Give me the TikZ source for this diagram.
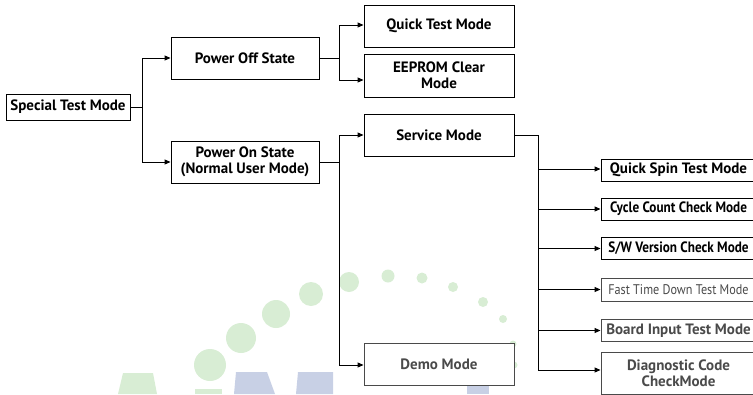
\documentclass[tikz,border=0pt]{standalone}
\usepackage{fontspec}
\setmainfont{PT Sans}
\newfontfamily\narrowfont[FakeStretch=0.87]{PT Sans}
\newfontfamily\condfont[FakeStretch=0.88]{PT Sans}
\usetikzlibrary{arrows.meta}
\definecolor{wmgreen}{HTML}{D8EDD4}
\definecolor{wmblue}{HTML}{C8D0E5}
\definecolor{dgray}{HTML}{4A4A4A}
\tikzset{
  box/.style={draw=black, line width=0.9pt, fill=white, align=center, inner sep=1pt,
    font=\fontsize{15}{16}\selectfont\bfseries},
  condbox/.style={box, font=\fontsize{15}{16}\condfont\bfseries},
  graybox/.style={box, draw=dgray, text=dgray},
  link/.style={draw=black, line width=0.9pt},
  arr/.style={link, -{Triangle[length=6pt,width=5pt]}},
}
\begin{document}
\begin{tikzpicture}[x=1pt,y=-1pt]
\useasboundingbox (0,0) rectangle (753,394);
\clip (0,0) rectangle (753,394);
% watermark
\begin{scope}[fill=wmgreen]
  \fill (349,282) circle (10);
  \fill (311,294) circle (12);
  \fill (276,314) circle (14);
  \fill (241,338) circle (15);
  \fill (210,365) circle (16);
  \fill (388,276) circle (6.5);
  \fill (422,278) circle (5.5);
  \fill (453,287) circle (5);
  \fill (483,302) circle (5);
  \fill (503,319) circle (4);
  \fill (513,344) circle (3.5);
  \fill (514,365) circle (3.5);
  \fill (123,373) -- (153,373) -- (157,394) -- (118,394) -- cycle;
  \fill (195,389) rectangle (222,394);
\end{scope}
\begin{scope}[fill=wmblue]
  \fill (236,372) -- (267,372) -- (275,394) -- (234,394) -- cycle;
  \fill (298,372) -- (333,372) -- (333,394) -- (296,394) -- cycle;
  \fill (467,371) rectangle (489,394);
\end{scope}
% nodes
\node[box, minimum width=124pt, minimum height=26pt] (special) at (68,107) {Special Test Mode};
\node[box, minimum width=148pt, minimum height=42pt] (poweroff) at (245,58) {Power Off State};
\node[box, minimum width=148pt, minimum height=42pt] (poweron) at (245,162) {Power On State\\(Normal User Mode)};
\node[box, minimum width=150pt, minimum height=42pt] (quick) at (439,26) {Quick Test Mode};
\node[box, minimum width=150pt, minimum height=43pt] (eeprom) at (439,75.5) {EEPROM Clear\\Mode};
\node[box, minimum width=150pt, minimum height=42pt] (service) at (439,135) {Service Mode};
\node[graybox, minimum width=150pt, minimum height=42pt] (demo) at (439,364) {Demo Mode};
\node[box, minimum width=155pt, minimum height=22pt] (qspin) at (678.5,170) {Quick Spin Test Mode};
\node[condbox, minimum width=155pt, minimum height=22pt] (cycle) at (678.5,209) {Cycle Count Check Mode};
\node[condbox, minimum width=155pt, minimum height=22pt] (sw) at (678.5,248.5) {S/W Version Check Mode};
\node[graybox, minimum width=155pt, minimum height=23pt, font=\fontsize{14}{15}\narrowfont] (fast) at (678.5,289.5) {Fast Time Down Test Mode};
\node[graybox, minimum width=155pt, minimum height=22pt] (board) at (678.5,330.5) {Board Input Test Mode};
\node[graybox, minimum width=155pt, minimum height=42pt] (diag) at (678.5,373) {Diagnostic Code\\CheckMode};
% junctions
\coordinate (j1) at (142,107);
\coordinate (j2) at (339,58);
\coordinate (j3) at (339,162);
\coordinate (j4) at (538,135);
% connectors
\draw[link] (special.east) -- (j1);
\draw[arr] (j1) |- (poweroff.west);
\draw[arr] (j1) |- (poweron.west);
\draw[link] (poweroff.east) -- (j2);
\draw[arr] (j2) |- ([yshift=1pt]quick.west);
\draw[arr] (j2) |- ([yshift=-4.5pt]eeprom.west);
\draw[link] (poweron.east) -- (j3);
\draw[arr] (j3) |- (service.west);
\draw[arr] (j3) |- ([yshift=-1pt]demo.west);
\draw[link] (service.east) -- (j4);
\draw[arr] (j4) |- ([yshift=1pt]qspin.west);
\draw[arr] (j4) |- (cycle.west);
\draw[arr] (j4) |- (sw.west);
\draw[arr] (j4) |- (fast.west);
\draw[arr] (j4) |- (board.west);
\draw[arr] (j4) |- ([yshift=3pt]diag.west);
\end{tikzpicture}
\end{document}
